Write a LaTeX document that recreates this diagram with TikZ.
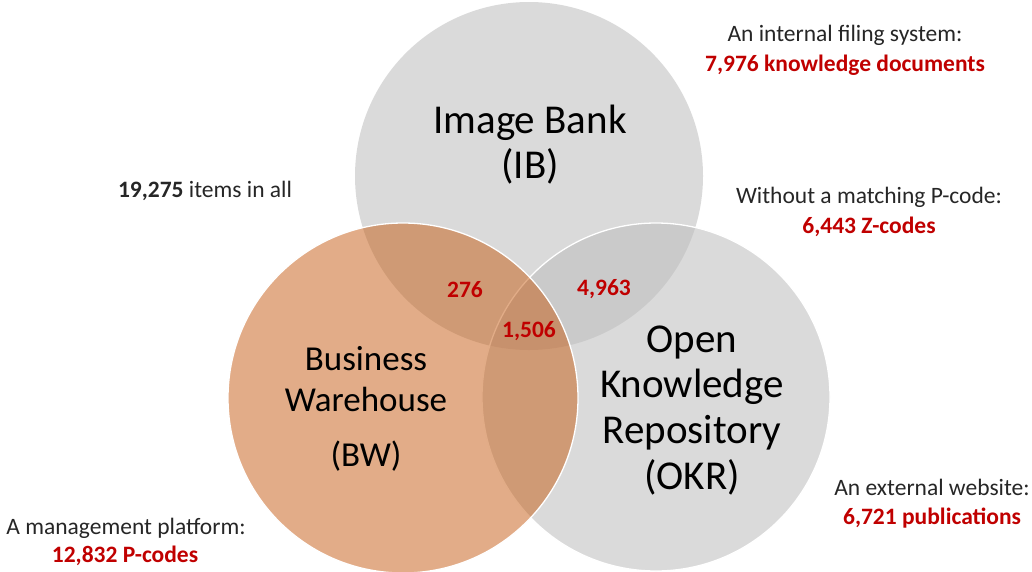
\documentclass[tikz,border=0pt]{standalone}
\usepackage{fontspec}
\setmainfont{Carlito}
\definecolor{setgray}{HTML}{BEBEBE}
\definecolor{setorange}{HTML}{C55A11}
\definecolor{numred}{HTML}{C00000}
\definecolor{notegray}{HTML}{262626}
\begin{document}
\begin{tikzpicture}[x=1pt,y=-1pt,
  setdisc/.style={circle, inner sep=0pt, minimum size=#1, line width=1.3pt},
  graydisc/.style={setdisc=#1, fill=setgray, fill opacity=0.57},
  orangedisc/.style={setdisc=#1, fill=setorange, fill opacity=0.5, draw=white},
  biglabel/.style={font=\fontsize{41}{49}\selectfont, anchor=base, inner sep=0pt},
  midlabel/.style={font=\fontsize{35}{42}\selectfont, anchor=base, inner sep=0pt},
  notelabel/.style={font=\fontsize{23.5}{28}\selectfont, text=notegray, anchor=base, inner sep=0pt},
  countlabel/.style={font=\fontsize{23.5}{28}\selectfont\bfseries, text=numred, anchor=base, inner sep=0pt}]
\useasboundingbox (0,0) rectangle (1032,571);
\clip (0,0) rectangle (1032,571);

% the three sets: Image Bank, Open Knowledge Repository, Business Warehouse
\node[graydisc=348pt] (ib) at (529,176) {};
\node[graydisc=348pt, draw=white] (okr) at (656,397) {};
\node[orangedisc=350pt] (bw) at (403,398) {};

% set names
\node[biglabel] (ibname1) at (530,133) {Image Bank};
\node[biglabel] (ibname2) at (530,178) {(IB)};
\node[midlabel] (bwname1) at (366,370) {Business};
\node[midlabel] (bwname2) at (366,411) {Warehouse};
\node[midlabel] (bwname3) at (366,466) {(BW)};
\node[biglabel] (okrname1) at (692,352) {Open};
\node[biglabel] (okrname2) at (692,397) {Knowledge};
\node[biglabel] (okrname3) at (692,443) {Repository};
\node[biglabel] (okrname4) at (692,489) {(OKR)};

% overlap counts
\node[countlabel] (nibbw) at (465,297) {276};
\node[countlabel] (nibokr) at (604,295) {4,963};
\node[countlabel] (nall) at (529,337) {1,506};

% side notes
\node[notelabel] (ibnote1) at (845,41) {An internal filing system:};
\node[countlabel] (ibnote2) at (845,71) {7,976 knowledge documents};
\node[notelabel] (znote1) at (869,203) {Without a matching P-code:};
\node[countlabel] (znote2) at (869,233) {6,443 Z-codes};
\node[notelabel] (total) at (205,197) {\textbf{19,275} items in all};
\node[notelabel] (bwnote1) at (126,534) {A management platform:};
\node[countlabel] (bwnote2) at (125,562) {12,832 P-codes};
\node[notelabel] (okrnote1) at (932,495) {An external website:};
\node[countlabel] (okrnote2) at (932,524) {6,721 publications};
\end{tikzpicture}
\end{document}
